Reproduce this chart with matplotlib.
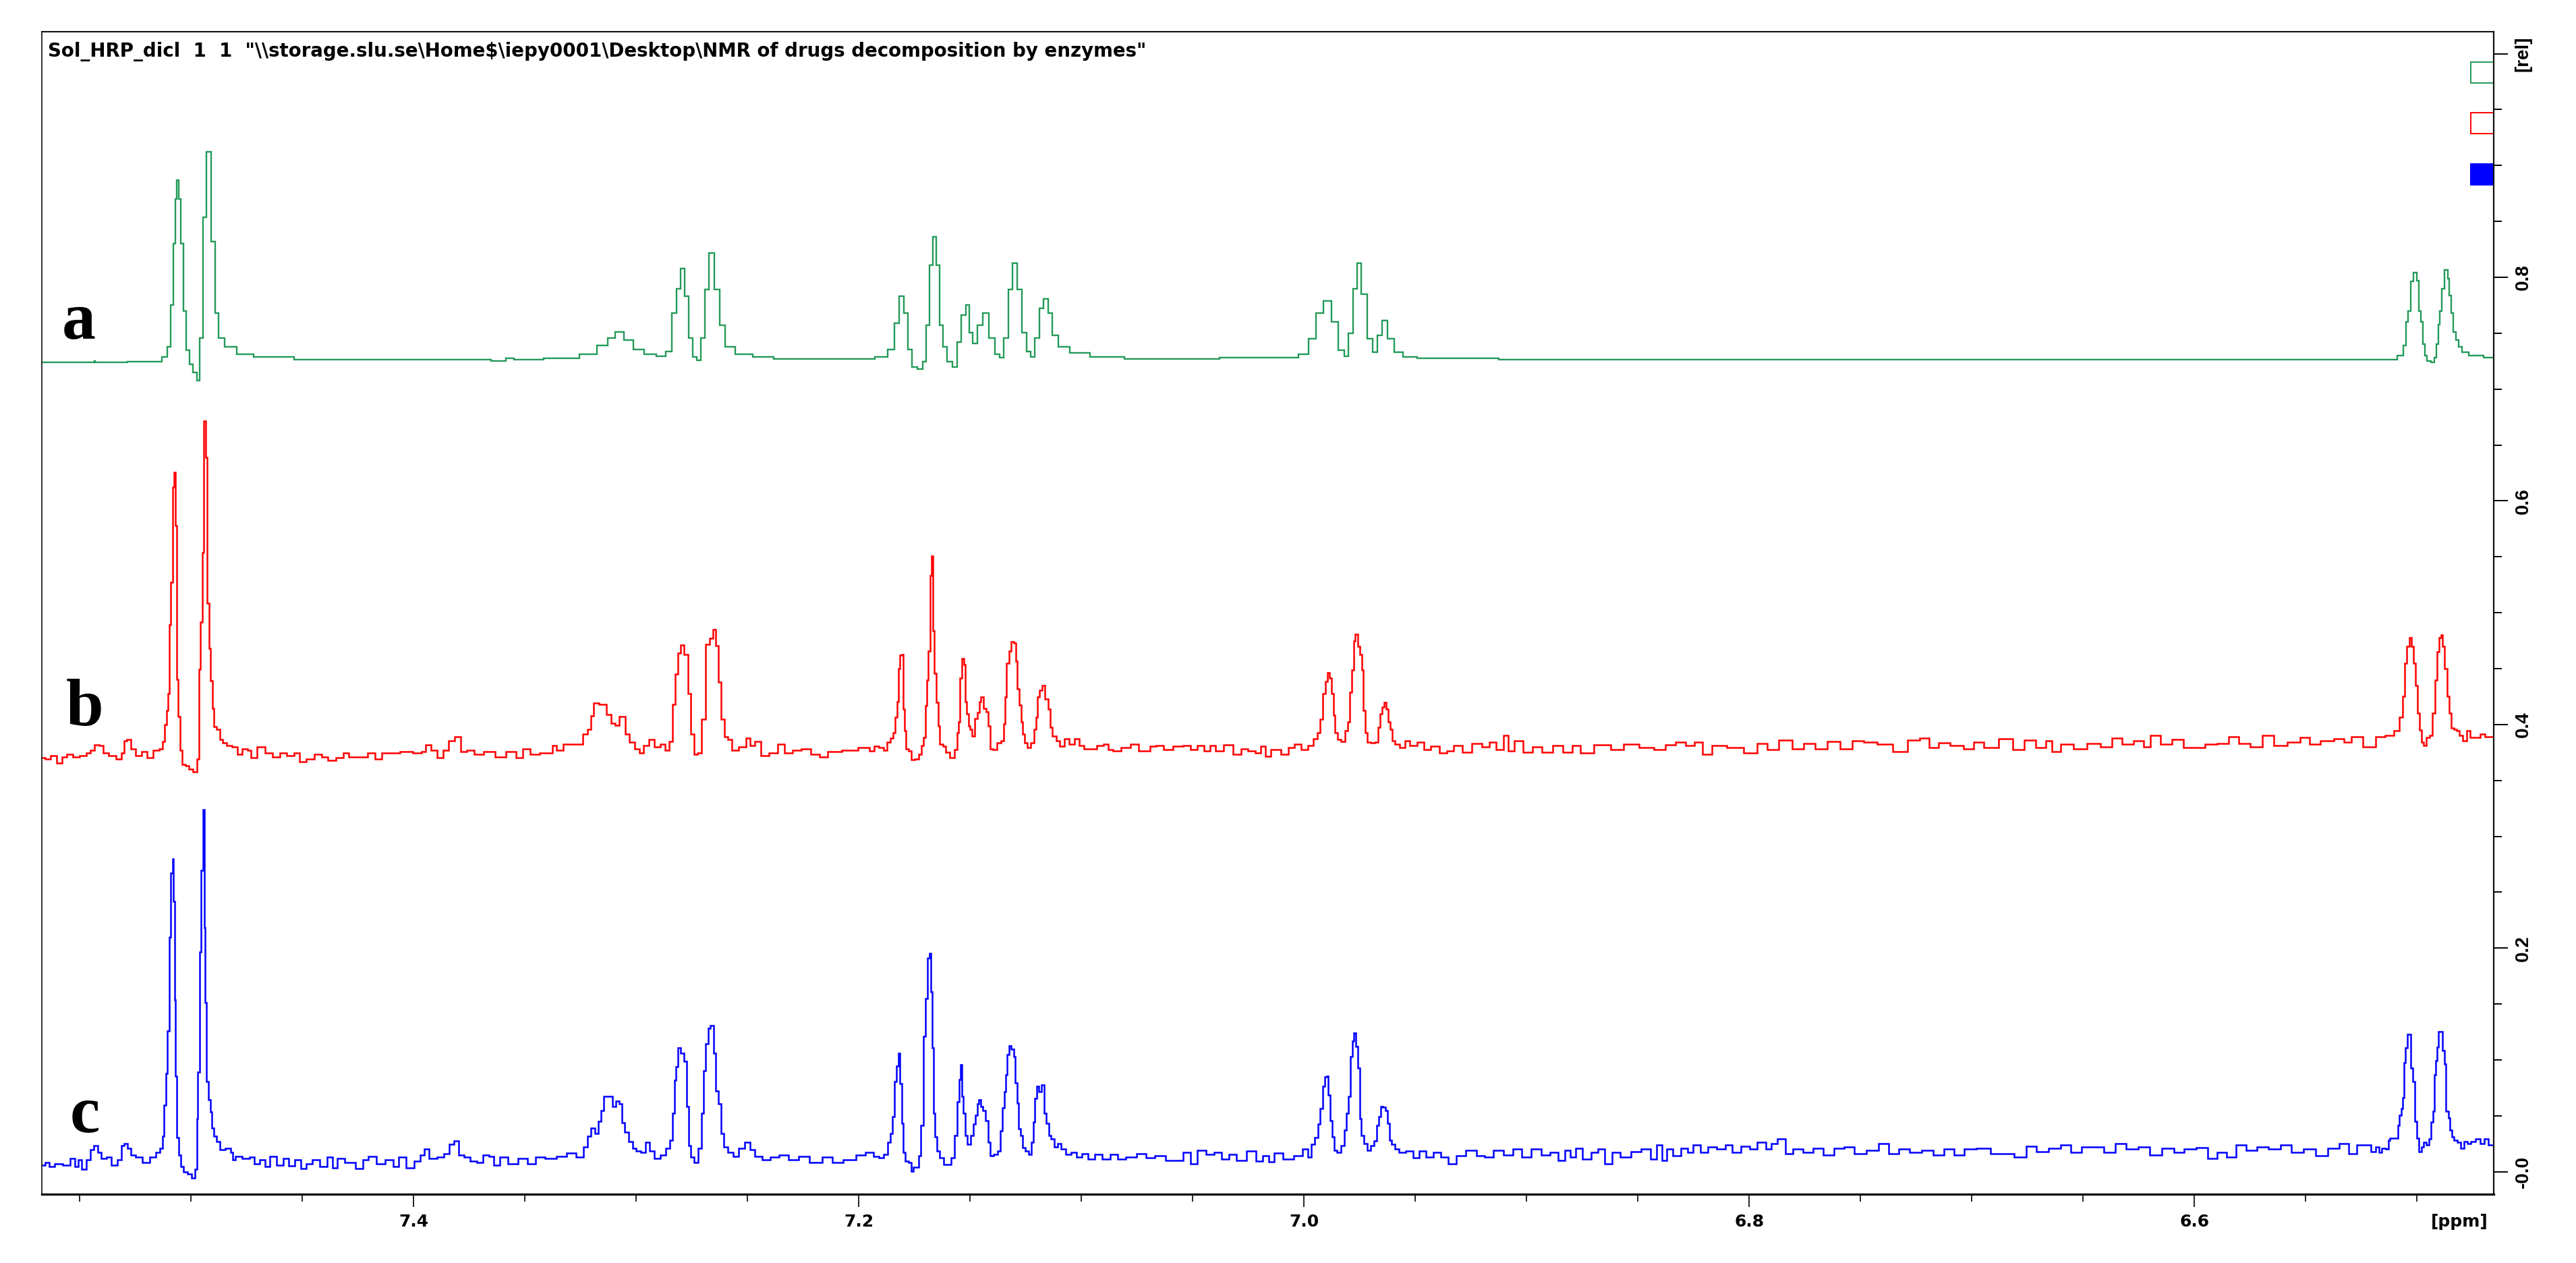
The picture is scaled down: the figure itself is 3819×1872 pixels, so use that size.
import matplotlib
matplotlib.use("Agg")
import matplotlib.pyplot as plt
from matplotlib.patches import Rectangle

TITLE = 'Sol_HRP_dicl  1  1  "\\\\storage.slu.se\\Home$\\iepy0001\\Desktop\\NMR of drugs decomposition by enzymes"'
X_MAJOR = [7.4, 7.2, 7.0, 6.8, 6.6]
X_LABELS = ["7.4", "7.2", "7.0", "6.8", "6.6"]
X_MINOR = [7.55, 7.5, 7.45, 7.35, 7.3, 7.25, 7.15, 7.1, 7.05, 6.95, 6.9, 6.85, 6.75, 6.7, 6.65, 6.55, 6.5]
Y_MAJOR = [0.0, 0.2, 0.4, 0.6, 0.8, 1.0]
Y_LABELS = ["-0.0", "0.2", "0.4", "0.6", "0.8", "[rel]"]
Y_MINOR = [0.05, 0.1, 0.15, 0.25, 0.3, 0.35, 0.45, 0.5, 0.55, 0.65, 0.7, 0.75, 0.85, 0.9, 0.95]
PANEL_LETTERS = ["a", "b", "c"]

trace_a = [
(7.567,.7240),(7.5437,.7240),(7.5432,.7255),(7.5427,.7240),(7.5145,.7245),(7.5115,.729),(7.51,.738),(7.5085,.775),(7.5075,.83),(7.5065,.87),(7.506,.887),
(7.505,.87),(7.504,.83),(7.503,.77),(7.5015,.735),(7.5,.722),(7.498,.715),(7.4964,.708),(7.4955,.746),(7.4939,.854),(7.4921,.912),(7.49,.832),
(7.4885,.768),(7.4867,.746),(7.483,.738),(7.476,.731),(7.4676,.729),(7.4397,.7265),(7.37,.7265),(7.3605,.725),(7.3565,.7275),(7.353,.7265),(7.33,.7275),
(7.321,.731),(7.3145,.739),(7.311,.746),(7.3076,.751),(7.3033,.744),(7.299,.7355),(7.2936,.731),(7.2885,.7295),(7.285,.7335),(7.283,.768),(7.281,.79),
(7.279,.808),(7.2773,.783),(7.2755,.746),(7.2736,.729),(7.272,.726),(7.27,.746),(7.2685,.789),(7.266,.822),(7.2636,.789),(7.2615,.757),(7.2588,.738),
(7.252,.7315),(7.243,.729),(7.2336,.727),(7.1967,.727),(7.189,.729),(7.185,.7355),(7.183,.759),(7.1806,.783),(7.1788,.768),(7.177,.7355),(7.175,.72),
(7.1724,.718),(7.1703,.7245),(7.169,.757),(7.1676,.811),(7.166,.836),(7.1645,.811),(7.163,.757),(7.1615,.738),(7.159,.7245),(7.1567,.72),(7.155,.742),
(7.153,.766),(7.151,.775),(7.1494,.7505),(7.148,.741),(7.1455,.757),(7.143,.768),(7.14,.746),(7.1376,.731),(7.136,.728),(7.134,.746),(7.1318,.789),
(7.13,.813),(7.1276,.789),(7.1258,.7505),(7.1236,.7335),(7.122,.729),(7.1197,.746),(7.118,.772),(7.116,.781),(7.114,.768),(7.112,.748),(7.1085,.738),
(7.102,.7325),(7.09,.729),(7.071,.727),(7.005,.728),(7.0,.731),(6.996,.745),(6.993,.768),(6.9895,.779),(6.986,.76),(6.983,.735),(6.981,.7295),(6.979,.75),
(6.977,.79),(6.9755,.813),(6.973,.785),(6.97,.745),(6.968,.733),(6.966,.748),(6.9637,.7615),(6.961,.745),(6.958,.733),(6.953,.729),(6.945,.7275),(6.88,.7265),
(6.5106,.7265),(6.507,.73),(6.5055,.739),(6.5045,.76),(6.5033,.77),(6.5024,.7965),(6.5006,.804),(6.4997,.797),(6.4988,.77),(6.4979,.76),(6.497,.74),
(6.496,.73),(6.4948,.7255),(6.4927,.724),(6.4918,.728),(6.4909,.74),(6.49,.758),(6.4894,.77),(6.4885,.79),(6.4867,.8066),(6.4858,.799),(6.4849,.784),
(6.4842,.768),(6.4833,.751),(6.4818,.744),(6.4806,.738),(6.4788,.733),(6.4745,.73),(6.4655,.7285),
]

trace_b = [
(7.5667,.3701),(7.5644,.3689),(7.5619,.3723),(7.5589,.3656),(7.5569,.3712),(7.5544,.3734),(7.5519,.3712),(7.5481,.3723),(7.5461,.3745),(7.5443,.3767),
(7.5426,.3818),(7.5401,.3812),(7.5386,.3745),(7.5355,.3723),(7.532,.3689),(7.5305,.3745),(7.5293,.3857),(7.5283,.3868),(7.526,.3779),(7.5235,.3723),
(7.521,.3756),(7.5185,.3701),(7.5154,.3767),(7.5134,.3779),(7.5122,.3846),(7.5114,.4),(7.5107,.4123),(7.5099,.4279),(7.5094,.4892),(7.5086,.5272),
(7.5079,.6123),(7.5071,.6257),(7.5066,.5777),(7.5059,.4405),(7.5054,.4071),(7.5046,.3767),(7.5036,.3645),(7.5016,.3634),(7.5004,.36),(7.4978,.3578),
(7.4968,.3689),(7.4961,.4494),(7.4953,.4918),(7.4946,.5541),(7.4938,.6714),(7.4931,.6391),(7.4923,.5085),(7.4916,.4683),(7.4908,.4393),(7.4901,.4147),
(7.4891,.398),(7.4878,.3957),(7.4865,.3868),(7.4853,.3834),(7.4828,.3812),(7.4802,.3801),(7.4782,.3734),(7.4757,.3779),(7.4737,.3767),(7.4722,.3701),
(7.4682,.3801),(7.4652,.3745),(7.4614,.3712),(7.4589,.3745),(7.4551,.3723),(7.4521,.3745),(7.4501,.3667),(7.4463,.3689),(7.4426,.3734),(7.44,.3712),
(7.437,.3678),(7.4325,.3701),(7.4305,.3745),(7.4275,.3712),(7.4225,.3712),(7.4187,.3745),(7.4162,.3689),(7.4124,.3745),(7.4086,.3745),(7.4036,.3756),
(7.3973,.3745),(7.3953,.3756),(7.3936,.3818),(7.391,.3767),(7.3878,.3701),(7.3853,.3767),(7.3835,.3857),(7.3797,.389),(7.3777,.3756),(7.3747,.3767),
(7.3709,.3734),(7.3659,.3756),(7.3609,.3712),(7.3559,.3756),(7.3521,.3701),(7.3496,.3779),(7.3458,.3734),(7.3408,.3745),(7.3383,.3745),(7.337,.3812),
(7.3345,.3767),(7.3308,.3823),(7.3245,.3823),(7.3232,.3912),(7.3207,.3957),(7.32,.408),(7.3182,.4192),(7.3149,.4181),(7.3119,.4092),(7.3106,.4014),
(7.3081,.3991),(7.3069,.4074),(7.3054,.4074),(7.3043,.3912),(7.3018,.3845),(7.2993,.3779),(7.298,.3745),(7.2955,.3812),(7.293,.3868),(7.2905,.3801),
(7.288,.3823),(7.2862,.3767),(7.2842,.3846),(7.283,.4181),(7.2818,.4449),(7.2805,.4639),(7.2798,.4712),(7.2773,.4627),(7.2762,.4279),(7.2747,.3912),
(7.273,.3734),(7.2717,.3745),(7.2697,.4047),(7.268,.4717),(7.2662,.4772),(7.2647,.485),(7.2637,.4705),(7.2624,.4382),(7.2612,.4047),(7.2597,.3891),
(7.2579,.3868),(7.2562,.3767),(7.2516,.3801),(7.2496,.3878),(7.2479,.3812),(7.2453,.3846),(7.2428,.3723),(7.2378,.3745),(7.2353,.3823),(7.2315,.3745),
(7.2278,.3767),(7.224,.3779),(7.219,.3734),(7.2165,.3712),(7.2114,.3757),(7.2039,.3767),(7.1966,.3792),(7.194,.3764),(7.1922,.3808),(7.1896,.3794),
(7.1879,.3768),(7.1865,.3844),(7.1853,.388),(7.1839,.3925),(7.1832,.4065),(7.1823,.4206),(7.1818,.4498),(7.1811,.4618),(7.1802,.4628),(7.1799,.4136),
(7.1792,.3945),(7.1783,.3784),(7.1771,.3764),(7.176,.3684),(7.1739,.3694),(7.1722,.3734),(7.1713,.3814),(7.1705,.3884),(7.1698,.4166),(7.1691,.4397),
(7.1684,.4659),(7.1677,.5332),(7.167,.5507),(7.1663,.4839),(7.1656,.4457),(7.1647,.4196),(7.164,.3985),(7.1631,.3824),(7.1614,.3804),(7.1604,.3754),
(7.1578,.3704),(7.1562,.3774),(7.1555,.3925),(7.1548,.4025),(7.1541,.4417),(7.1534,.4588),(7.1523,.4538),(7.1518,.4206),(7.1511,.4096),(7.1504,.3985),
(7.1496,.3955),(7.1485,.3895),(7.1475,.4056),(7.1461,.4106),(7.1454,.4206),(7.1447,.4246),(7.1435,.4146),(7.1421,.4116),(7.1414,.3985),(7.1405,.3784),
(7.1388,.3774),(7.1371,.3834),(7.1353,.3854),(7.1346,.4005),(7.1341,.4246),(7.133,.4548),(7.1322,.4659),(7.131,.4739),(7.1299,.4729),(7.1292,.4568),
(7.1284,.4317),(7.1275,.4176),(7.1268,.4025),(7.1259,.3915),(7.1249,.3834),(7.1235,.3794),(7.1218,.3834),(7.1209,.3955),(7.12,.4065),(7.1193,.4246),
(7.1183,.4307),(7.1169,.4347),(7.1157,.4226),(7.1143,.4136),(7.1138,.3975),(7.1122,.3895),(7.1105,.3854),(7.1087,.3804),(7.1068,.3874),(7.1044,.3824),
(7.102,.3874),(7.1001,.3814),(7.0974,.3784),(7.0948,.3784),(7.0913,.3814),(7.0887,.3824),(7.087,.3774),(7.0844,.3764),(7.08,.3794),(7.0757,.3824),
(7.0731,.3764),(7.0705,.3764),(7.0678,.3804),(7.0652,.3814),(7.0609,.3774),(7.0565,.3804),(7.0522,.3814),(7.0496,.3774),(7.0461,.3814),(7.0435,.3764),
(7.0409,.3814),(7.0383,.3764),(7.0339,.382),(7.0296,.3734),(7.027,.3784),(7.0235,.3764),(7.0205,.3744),(7.0183,.3804),(7.0165,.3714),(7.0131,.3774),
(7.0078,.3734),(7.0061,.3794),(7.0026,.3824),(7.0,.3774),(6.9965,.3814),(6.9948,.3874),(6.9934,.3925),(6.9922,.4045),(6.991,.4276),(6.9899,.4387),
(6.9891,.4461),(6.9881,.4417),(6.9872,.4276),(6.9864,.4086),(6.9855,.3925),(6.9843,.3864),(6.9822,.3848),(6.9808,.3945),(6.9797,.4025),(6.9789,.4287),
(6.9782,.4488),(6.9773,.4749),(6.9765,.4809),(6.9752,.4698),(6.9744,.4628),(6.9737,.4488),(6.973,.4126),(6.9721,.3925),(6.9712,.3844),(6.969,.3834),
(6.9672,.3844),(6.9662,.3975),(6.9653,.4096),(6.9644,.4156),(6.9637,.4196),(6.9625,.4136),(6.9617,.4025),(6.9608,.3955),(6.9599,.3854),(6.9582,.3824),
(6.9556,.3794),(6.9534,.3854),(6.9513,.3814),(6.9469,.3844),(6.9451,.3774),(6.9408,.3804),(6.9373,.3744),(6.9342,.3762),(6.9312,.3813),(6.9267,.3752),
(6.9222,.3833),(6.9177,.3803),(6.9156,.3843),(6.9117,.3773),(6.909,.3903),(6.9072,.3762),(6.9037,.3853),(6.8995,.3752),(6.8953,.3803),(6.8908,.3752),
(6.8857,.3813),(6.8818,.3752),(6.8773,.3813),(6.8743,.3746),(6.8653,.3819),(6.8593,.3773),(6.8533,.3823),(6.8458,.3793),(6.8399,.3773),(6.8354,.3819),
(6.8309,.3843),(6.8264,.3813),(6.8228,.3843),(6.8192,.3732),(6.8144,.3813),(6.8054,.3793),(6.7994,.3746),(6.7934,.3833),(6.7904,.3773),(6.783,.3863),
(6.7785,.3783),(6.7725,.3833),(6.768,.3783),(6.762,.3847),(6.756,.3783),(6.7515,.3853),(6.7455,.3843),(6.7395,.3823),(6.7314,.3758),(6.726,.3863),
(6.721,.3879),(6.717,.3793),(6.7126,.3839),(6.7066,.3813),(6.7006,.3779),(6.6976,.3843),(6.6916,.3793),(6.6841,.3873),(6.679,.3773),(6.6736,.3863),
(6.6691,.3793),(6.6646,.3853),(6.6631,.3758),(6.6572,.3823),(6.6512,.3783),(6.6452,.3833),(6.6392,.3803),(6.6347,.3879),(6.6302,.3823),(6.6242,.3853),
(6.6212,.3803),(6.6182,.3903),(6.6122,.3823),(6.6077,.3867),(6.6018,.3793),(6.5973,.3793),(6.5928,.3827),(6.5868,.3833),(6.5823,.3893),(6.5778,.3833),
(6.5718,.3803),(6.5673,.3903),(6.5613,.3813),(6.5553,.3843),(6.5499,.3887),(6.5463,.3823),(6.5404,.3853),(6.5344,.3873),(6.5314,.3843),(6.5275,.3893),
(6.5209,.3803),(6.5164,.3893),(6.5119,.3903),(6.5089,.3943),(6.5068,.4064),(6.506,.425),(6.505,.455),(6.504,.47),(6.503,.478),(6.502,.47),(6.5012,.455),
(6.5003,.435),(6.499,.41),(6.4985,.395),(6.4975,.384),(6.4966,.3813),(6.495,.3883),(6.4935,.39),(6.4925,.41),(6.4915,.44),(6.4905,.465),(6.4895,.478),
(6.489,.48),(6.488,.47),(6.487,.45),(6.486,.425),(6.4852,.41),(6.484,.397),(6.483,.3954),(6.4815,.3943),(6.4805,.39),(6.4785,.3853),(6.477,.3943),
(6.475,.3885),(6.4725,.3883),(6.4705,.3913),(6.4683,.389),(6.4655,.389),
]

trace_c = [
(7.5667,.0056),(7.5644,.008),(7.5632,.0044),(7.5594,.0068),(7.5556,.0056),(7.5531,.0116),(7.5514,.0044),(7.5499,.0104),(7.5481,.002),(7.5461,.0104),
(7.5443,.02),(7.5428,.0235),(7.5411,.0175),(7.5393,.0116),(7.5368,.0128),(7.5345,.0056),(7.5318,.0104),(7.5305,.0235),(7.5293,.0252),(7.5275,.0211),
(7.5265,.0151),(7.523,.0128),(7.5205,.0085),(7.5167,.0128),(7.5147,.0175),(7.5132,.0211),(7.5124,.0319),(7.5117,.0593),(7.5109,.088),(7.5102,.1261),
(7.5094,.2097),(7.5086,.267),(7.5081,.2801),(7.5076,.2419),(7.5071,.1536),(7.5066,.0856),(7.5059,.0307),(7.5051,.0151),(7.5041,.0044),(7.5029,-.0004),
(7.5004,-.002),(7.4988,-.0059),(7.4978,.002),(7.4971,.0474),(7.4966,.0891),(7.4958,.1966),(7.4951,.2694),(7.4943,.3238),(7.4938,.218),(7.4933,.1512),
(7.4926,.0808),(7.4916,.0641),(7.4908,.0533),(7.4903,.039),(7.4891,.0319),(7.4878,.0271),(7.4865,.02),(7.4828,.0211),(7.4818,.0175),(7.4808,.0108),
(7.479,.0139),(7.4752,.0116),(7.4722,.0128),(7.4707,.0068),(7.4677,.0104),(7.4657,.0049),(7.4632,.0139),(7.4601,.006),(7.4571,.0116),(7.4551,.0051),
(7.4514,.0108),(7.4496,.0027),(7.4471,.0068),(7.4438,.0104),(7.4405,.0044),(7.437,.0128),(7.4355,.0037),(7.4333,.0116),(7.4287,.008),(7.4237,.0027),
(7.422,.0104),(7.4187,.0139),(7.4149,.0068),(7.4106,.0108),(7.4079,.0044),(7.4054,.0128),(7.4016,.0037),(7.3978,.0092),(7.3961,.0151),(7.3941,.0204),
(7.3918,.0116),(7.3873,.0132),(7.3853,.0163),(7.3827,.0247),(7.3807,.0278),(7.3787,.0151),(7.376,.0128),(7.3734,.0092),(7.3697,.0085),(7.3677,.0151),
(7.3647,.0139),(7.3631,.006),(7.3596,.0128),(7.3554,.0068),(7.3508,.0116),(7.3471,.0068),(7.3433,.0132),(7.3383,.0116),(7.3332,.0139),(7.3295,.017),
(7.3245,.0132),(7.3227,.0223),(7.3212,.0319),(7.3194,.039),(7.3179,.0342),(7.3164,.045),(7.3154,.0545),(7.3139,.0677),(7.3116,.0677),(7.3099,.0581),
(7.3084,.0634),(7.3069,.0605),(7.3058,.0438),(7.3043,.0354),(7.3023,.0271),(7.3008,.0211),(7.2993,.0187),(7.2968,.0175),(7.2948,.0266),(7.293,.0187),
(7.2905,.0116),(7.288,.0151),(7.2855,.0211),(7.2842,.0283),(7.2832,.0521),(7.2825,.082),(7.2817,.0939),(7.2807,.1106),(7.2792,.1058),(7.2777,.0987),
(7.277,.0581),(7.276,.0235),(7.2747,.0128),(7.273,.0085),(7.2712,.0211),(7.2702,.0521),(7.2692,.0903),(7.2682,.1142),(7.2672,.1285),(7.2659,.1309),
(7.2647,.1058),(7.2636,.0724),(7.2626,.0605),(7.2614,.0342),(7.2599,.0223),(7.2579,.0175),(7.2551,.0139),(7.2528,.0211),(7.2498,.0266),(7.2478,.02),
(7.2453,.0139),(7.2415,.0104),(7.2377,.0128),(7.234,.0151),(7.2289,.0104),(7.2252,.0139),(7.2189,.008),(7.2139,.0128),(7.2101,.008),(7.2038,.0104),
(7.1988,.0151),(7.195,.0175),(7.1917,.0139),(7.1902,.0123),(7.1877,.0154),(7.1863,.0264),(7.1854,.0345),(7.1844,.0495),(7.1834,.0807),(7.1827,.0948),
(7.1819,.1058),(7.1809,.0787),(7.1803,.0435),(7.1796,.0174),(7.1784,.0093),(7.1767,.0083),(7.1761,.0003),(7.1747,.0043),(7.1734,.0043),(7.1726,.0144),
(7.1715,.0415),(7.1703,.1209),(7.1695,.1551),(7.1687,.1912),(7.168,.1953),(7.1674,.1611),(7.1668,.1108),(7.1662,.0525),(7.1655,.0314),(7.1645,.0184),
(7.163,.0123),(7.161,.0063),(7.1593,.0063),(7.1577,.0123),(7.1564,.0324),(7.1554,.0626),(7.1546,.0827),(7.1541,.0958),(7.1535,.0676),(7.1525,.0525),
(7.1517,.0324),(7.1506,.0244),(7.149,.0324),(7.1479,.0425),(7.1471,.0505),(7.1463,.0606),(7.1457,.0646),(7.1448,.0586),(7.1436,.0545),(7.1423,.0455),
(7.1415,.0264),(7.1403,.0144),(7.1386,.0154),(7.1369,.0184),(7.1359,.0365),(7.1351,.057),(7.1343,.0716),(7.1336,.0867),(7.133,.1048),(7.132,.1128),
(7.1309,.1098),(7.1299,.1028),(7.1293,.0797),(7.1285,.0616),(7.1278,.0385),(7.1268,.0324),(7.1258,.0214),(7.1245,.0184),(7.1229,.0154),(7.122,.0264),
(7.1212,.0445),(7.1204,.0656),(7.1196,.0767),(7.1185,.0716),(7.1173,.0777),(7.1162,.0525),(7.1152,.0435),(7.1142,.0324),(7.1129,.0294),(7.1115,.0224),
(7.11,.0254),(7.1081,.0204),(7.1061,.0154),(7.1032,.0174),(7.1013,.0133),(7.0984,.0164),(7.0955,.0113),(7.0926,.0154),(7.0887,.0113),(7.0852,.0154),
(7.082,.0113),(7.0781,.0133),(7.0723,.0164),(7.0694,.0123),(7.0646,.0144),(7.0597,.0099),(7.0568,.0103),(7.052,.0174),(7.0501,.0073),(7.0458,.0194),
(7.0423,.0154),(7.0385,.0174),(7.0356,.0113),(7.0317,.0154),(7.0288,.0103),(7.023,.0184),(7.0201,.0093),(7.0172,.0144),(7.0143,.0087),(7.0124,.0168),
(7.0066,.0113),(7.0027,.0144),(6.9988,.0204),(6.9977,.0133),(6.996,.0244),(6.9944,.0304),(6.9932,.0425),(6.9921,.0566),(6.9911,.0767),(6.9901,.0847),
(6.9894,.0857),(6.9886,.0686),(6.9878,.0455),(6.9869,.0314),(6.9859,.0194),(6.9843,.0174),(6.9824,.0234),(6.9814,.0375),(6.9805,.0525),(6.9795,.0676),
(6.9785,.1028),(6.978,.1169),(6.9772,.1243),(6.9762,.1118),(6.9753,.0927),(6.9747,.0475),(6.9737,.0324),(6.9724,.0254),(6.9708,.0194),(6.9693,.0234),
(6.9677,.0274),(6.9668,.0415),(6.9658,.0495),(6.965,.0582),(6.9639,.0576),(6.9627,.0545),(6.9621,.0435),(6.9611,.0284),(6.96,.0244),(6.9582,.0204),
(6.9563,.0174),(6.9524,.0184),(6.9495,.0123),(6.9467,.0184),(6.9437,.0133),(6.9399,.0174),(6.937,.0133),(6.9331,.0073),(6.9302,.0144),(6.9244,.0194),
(6.9205,.0144),(6.9173,.0131),(6.9127,.0192),(6.908,.0151),(6.9043,.0202),(6.9003,.0131),(6.8957,.0202),(6.891,.0151),(6.8879,.0172),(6.8839,.0101),
(6.8818,.0192),(6.8787,.0131),(6.8771,.0212),(6.8725,.0111),(6.8694,.0172),(6.8663,.0202),(6.8632,.0071),(6.8601,.0172),(6.8555,.0131),(6.8509,.0182),
(6.8462,.0202),(6.8422,.0111),(6.8407,.0242),(6.8376,.0101),(6.8363,.0202),(6.8323,.0141),(6.8292,.0212),(6.8261,.0172),(6.824,.0242),(6.82,.0172),
(6.8169,.0222),(6.8122,.0202),(6.8092,.0238),(6.8061,.0172),(6.8014,.0226),(6.7983,.0202),(6.7946,.0266),(6.7906,.0202),(6.7897,.0252),(6.785,.0292),
(6.7823,.0161),(6.7783,.0202),(6.7736,.0172),(6.769,.0212),(6.7643,.0151),(6.7597,.0212),(6.7551,.0222),(6.7504,.0161),(6.7443,.0192),(6.7396,.0252),
(6.735,.0161),(6.7304,.0202),(6.7257,.0172),(6.7195,.0192),(6.7149,.0151),(6.7103,.0202),(6.7056,.0151),(6.701,.0202),(6.6948,.0212),(6.6886,.0161),
(6.684,.0161),(6.6778,.0131),(6.6732,.0226),(6.6686,.0182),(6.6624,.0212),(6.6577,.0242),(6.6531,.0172),(6.6485,.0222),(6.6438,.0222),(6.6377,.0172),
(6.633,.0252),(6.6284,.0202),(6.6222,.0222),(6.6176,.0151),(6.6114,.0212),(6.6068,.0172),(6.6021,.0202),(6.5959,.0218),(6.5922,.0121),(6.5873,.0172),
(6.5836,.0131),(6.579,.0242),(6.5743,.0192),(6.5697,.0222),(6.5635,.0202),(6.5589,.0242),(6.5542,.0172),(6.548,.0202),(6.5428,.0145),(6.5372,.0212),
(6.5326,.0252),(6.5286,.0161),(6.5255,.0242),(6.5217,.0242),(6.5196,.0181),(6.5176,.0222),(6.5166,.0171),(6.5151,.0212),(6.5131,.0201),(6.5126,.0282),
(6.5116,.0302),(6.509,.0302),(6.5083,.0413),(6.5075,.0503),(6.5068,.0564),(6.506,.0664),(6.5055,.0976),(6.5047,.1107),(6.504,.1227),(6.503,.1227),
(6.5023,.0926),(6.5013,.0805),(6.5006,.0453),(6.4997,.0302),(6.4986,.0181),(6.4974,.0222),(6.4964,.0262),(6.4954,.0242),(6.4939,.0292),(6.4932,.0443),
(6.4924,.0543),(6.4919,.0865),(6.4912,.0996),(6.4906,.1117),(6.4898,.1251),(6.4888,.1251),(6.488,.1087),(6.4873,.0966),(6.4866,.0543),(6.4853,.0483),
(6.4848,.0372),(6.484,.0312),(6.4826,.0282),(6.4813,.0262),(6.4795,.0212),(6.4782,.0272),(6.4767,.0252),(6.4747,.0272),(6.4727,.0292),(6.4707,.0252),
(6.4687,.0292),(6.4671,.0242),(6.4658,.0242),
]

W, H = 3819, 1872
fig = plt.figure(figsize=(W / 100, H / 100), dpi=100, facecolor="white")
ax = fig.add_axes([62 / W, (H - 1770) / H, (3697 - 62) / W, (1770 - 47) / H])

for trace, color, lw in [(trace_a, "#229A58", 1.7), (trace_b, "#FF0000", 1.8), (trace_c, "#0000FF", 1.8)]:
    ax.plot([p for p, _ in trace], [r for _, r in trace], color=color, lw=lw,
            drawstyle="steps-mid", solid_joinstyle="miter")

ax.set_xlim(7.567, 6.4655)
ax.set_ylim(-0.0201, 1.0197)

ax.set_xticks(X_MAJOR)
ax.set_xticklabels(X_LABELS, fontfamily="DejaVu Sans", fontweight="bold", fontsize=18)
ax.set_xticks(X_MINOR, minor=True)
ax.tick_params(axis="x", which="major", length=14, width=1.2, pad=7, direction="out")
ax.tick_params(axis="x", which="minor", length=8, width=1.2, direction="out")

ax.yaxis.tick_right()
ax.set_yticks(Y_MAJOR)
ax.set_yticklabels(Y_LABELS, fontfamily="Liberation Sans", fontweight="bold", fontsize=20,
                   rotation=90, va="center")
ax.set_yticks(Y_MINOR, minor=True)
ax.tick_params(axis="y", which="major", length=15, width=1.4, pad=7, direction="out")
ax.tick_params(axis="y", which="minor", length=8.5, width=1.4, direction="out")

ax.spines["left"].set_linewidth(1.2)
ax.spines["top"].set_linewidth(1.5)
ax.spines["right"].set_linewidth(1.6)
ax.spines["bottom"].set_linewidth(2.4)
for s in ax.spines.values():
    s.set_color("#101010")

for y0, ec, fc in [(0.9559, "#229A58", "none"), (0.9124, "#FF0000", "none"), (0.8683, "#0000FF", "#0000FF")]:
    ax.add_patch(Rectangle((0.9906, y0), 0.0094, 0.018, transform=ax.transAxes, ec=ec, fc=fc, lw=1.4, clip_on=False))

fig.text(71 / W, 1 - 84 / H, TITLE, fontfamily="DejaVu Sans", fontweight="bold", fontsize=19.9, color="black",
         ha="left", va="baseline")
fig.text(3646 / W, 1 - 1818 / H, "[ppm]", fontfamily="DejaVu Sans", fontweight="bold", fontsize=18,
         ha="center", va="baseline")

for letter, px, py in zip(PANEL_LETTERS, [92, 98, 104], [502, 1075, 1678]):
    fig.text(px / W, 1 - py / H, letter, fontfamily="Liberation Serif", fontweight="bold", fontsize=72,
             ha="left", va="baseline", color="black")

fig.savefig("out.png", dpi=100, facecolor="white")
